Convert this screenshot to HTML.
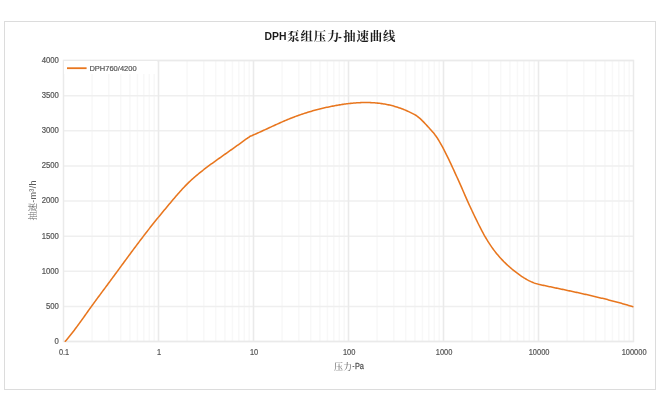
<!DOCTYPE html>
<html><head><meta charset="utf-8">
<style>
html,body{margin:0;padding:0;background:#fff;}
body{width:660px;height:410px;overflow:hidden;position:relative;}
svg{position:absolute;left:0;top:0;}
.tk{font-family:"Liberation Sans",sans-serif;font-size:8.4px;fill:#555;stroke:#555;stroke-width:0.2px;}
</style></head><body>
<svg width="660" height="410" viewBox="0 0 660 410">
<g>
<rect x="4.5" y="21.5" width="651" height="368" fill="#fff" stroke="#dcdcdc" stroke-width="1"/>
<path d="M92.10 60.5V341.5M108.83 60.5V341.5M120.70 60.5V341.5M129.90 60.5V341.5M137.42 60.5V341.5M143.78 60.5V341.5M149.29 60.5V341.5M154.15 60.5V341.5M187.10 60.5V341.5M203.83 60.5V341.5M215.70 60.5V341.5M224.90 60.5V341.5M232.42 60.5V341.5M238.78 60.5V341.5M244.29 60.5V341.5M249.15 60.5V341.5M282.10 60.5V341.5M298.83 60.5V341.5M310.70 60.5V341.5M319.90 60.5V341.5M327.42 60.5V341.5M333.78 60.5V341.5M339.29 60.5V341.5M344.15 60.5V341.5M377.10 60.5V341.5M393.83 60.5V341.5M405.70 60.5V341.5M414.90 60.5V341.5M422.42 60.5V341.5M428.78 60.5V341.5M434.29 60.5V341.5M439.15 60.5V341.5M472.10 60.5V341.5M488.83 60.5V341.5M500.70 60.5V341.5M509.90 60.5V341.5M517.42 60.5V341.5M523.78 60.5V341.5M529.29 60.5V341.5M534.15 60.5V341.5M567.10 60.5V341.5M583.83 60.5V341.5M595.70 60.5V341.5M604.90 60.5V341.5M612.42 60.5V341.5M618.78 60.5V341.5M624.29 60.5V341.5M629.15 60.5V341.5" stroke="#f8f8f8" stroke-width="1.5" fill="none"/>
<path d="M63.5 341.500H633.5M63.5 306.375H633.5M63.5 271.250H633.5M63.5 236.125H633.5M63.5 201.000H633.5M63.5 165.875H633.5M63.5 130.750H633.5M63.5 95.625H633.5M63.5 60.500H633.5" stroke="#efefef" stroke-width="1.5" fill="none"/>
<path d="M158.50 60.5V341.5M253.50 60.5V341.5M348.50 60.5V341.5M443.50 60.5V341.5M538.50 60.5V341.5" stroke="#eaeaea" stroke-width="1.6" fill="none"/>
<rect x="63.5" y="60.5" width="570.0" height="281.0" fill="none" stroke="#eaeaea" stroke-width="1.5"/>
<path d="M65.30 341.30 L66.30 340.15 L67.30 338.96 L68.30 337.77 L69.30 336.55 L70.30 335.31 L71.30 334.05 L72.30 332.77 L73.30 331.47 L74.30 330.16 L75.30 328.83 L76.30 327.49 L77.30 326.14 L78.30 324.77 L79.30 323.40 L80.30 322.02 L81.30 320.63 L82.30 319.24 L83.30 317.84 L84.30 316.43 L85.30 315.03 L86.30 313.62 L87.30 312.22 L88.30 310.82 L89.30 309.41 L90.30 308.02 L91.30 306.63 L92.30 305.24 L93.30 303.87 L94.30 302.49 L95.30 301.13 L96.30 299.77 L97.30 298.41 L98.30 297.05 L99.30 295.70 L100.30 294.35 L101.30 293.01 L102.30 291.66 L103.30 290.31 L104.30 288.96 L105.30 287.62 L106.30 286.27 L107.30 284.92 L108.30 283.56 L109.30 282.21 L110.30 280.85 L111.30 279.50 L112.30 278.14 L113.30 276.78 L114.30 275.42 L115.30 274.06 L116.30 272.70 L117.30 271.34 L118.30 269.98 L119.30 268.61 L120.30 267.25 L121.30 265.89 L122.30 264.53 L123.30 263.17 L124.30 261.81 L125.30 260.45 L126.30 259.09 L127.30 257.74 L128.30 256.38 L129.30 255.03 L130.30 253.68 L131.30 252.33 L132.30 250.98 L133.30 249.64 L134.30 248.30 L135.30 246.96 L136.30 245.62 L137.30 244.29 L138.30 242.96 L139.30 241.63 L140.30 240.31 L141.30 239.00 L142.30 237.68 L143.30 236.37 L144.30 235.07 L145.30 233.77 L146.30 232.48 L147.30 231.19 L148.30 229.90 L149.30 228.63 L150.30 227.35 L151.30 226.09 L152.30 224.83 L153.30 223.57 L154.30 222.32 L155.30 221.08 L156.30 219.84 L157.30 218.61 L158.30 217.38 L159.30 216.15 L160.30 214.93 L161.30 213.72 L162.30 212.50 L163.30 211.30 L164.30 210.09 L165.30 208.89 L166.30 207.69 L167.30 206.49 L168.30 205.29 L169.30 204.10 L170.30 202.91 L171.30 201.72 L172.30 200.53 L173.30 199.35 L174.30 198.17 L175.30 197.00 L176.30 195.84 L177.30 194.68 L178.30 193.54 L179.30 192.41 L180.30 191.29 L181.30 190.18 L182.30 189.08 L183.30 188.01 L184.30 186.95 L185.30 185.90 L186.30 184.88 L187.30 183.87 L188.30 182.89 L189.30 181.92 L190.30 180.98 L191.30 180.05 L192.30 179.15 L193.30 178.26 L194.30 177.38 L195.30 176.52 L196.30 175.67 L197.30 174.83 L198.30 174.00 L199.30 173.18 L200.30 172.37 L201.30 171.57 L202.30 170.78 L203.30 170.00 L204.30 169.22 L205.30 168.46 L206.30 167.70 L207.30 166.94 L208.30 166.19 L209.30 165.45 L210.30 164.72 L211.30 163.98 L212.30 163.26 L213.30 162.53 L214.30 161.81 L215.30 161.10 L216.30 160.38 L217.30 159.67 L218.30 158.96 L219.30 158.25 L220.30 157.54 L221.30 156.83 L222.30 156.12 L223.30 155.42 L224.30 154.71 L225.30 154.00 L226.30 153.30 L227.30 152.59 L228.30 151.88 L229.30 151.17 L230.30 150.46 L231.30 149.75 L232.30 149.05 L233.30 148.33 L234.30 147.62 L235.30 146.91 L236.30 146.20 L237.30 145.48 L238.30 144.77 L239.30 144.05 L240.30 143.33 L241.30 142.61 L242.30 141.89 L243.30 141.17 L244.30 140.45 L245.30 139.72 L246.30 138.99 L247.30 138.26 L248.30 137.58 L249.30 136.98 L249.70 136.50 L250.70 136.07 L251.70 135.67 L252.70 135.24 L253.70 134.81 L254.70 134.37 L255.70 133.93 L256.70 133.49 L257.70 133.04 L258.70 132.59 L259.70 132.14 L260.70 131.69 L261.70 131.23 L262.70 130.78 L263.70 130.32 L264.70 129.86 L265.70 129.40 L266.70 128.93 L267.70 128.47 L268.70 128.01 L269.70 127.55 L270.70 127.08 L271.70 126.62 L272.70 126.16 L273.70 125.70 L274.70 125.24 L275.70 124.79 L276.70 124.33 L277.70 123.88 L278.70 123.43 L279.70 122.98 L280.70 122.54 L281.70 122.10 L282.70 121.66 L283.70 121.23 L284.70 120.80 L285.70 120.37 L286.70 119.95 L287.70 119.54 L288.70 119.13 L289.70 118.72 L290.70 118.32 L291.70 117.93 L292.70 117.54 L293.70 117.16 L294.70 116.78 L295.70 116.40 L296.70 116.04 L297.70 115.68 L298.70 115.32 L299.70 114.97 L300.70 114.62 L301.70 114.28 L302.70 113.95 L303.70 113.62 L304.70 113.29 L305.70 112.97 L306.70 112.65 L307.70 112.34 L308.70 112.04 L309.70 111.74 L310.70 111.44 L311.70 111.15 L312.70 110.87 L313.70 110.59 L314.70 110.31 L315.70 110.04 L316.70 109.77 L317.70 109.51 L318.70 109.25 L319.70 109.00 L320.70 108.75 L321.70 108.51 L322.70 108.27 L323.70 108.03 L324.70 107.80 L325.70 107.58 L326.70 107.36 L327.70 107.14 L328.70 106.93 L329.70 106.72 L330.70 106.51 L331.70 106.31 L332.70 106.12 L333.70 105.93 L334.70 105.74 L335.70 105.56 L336.70 105.38 L337.70 105.20 L338.70 105.03 L339.70 104.87 L340.70 104.70 L341.70 104.55 L342.70 104.39 L343.70 104.25 L344.70 104.10 L345.70 103.97 L346.70 103.83 L347.70 103.71 L348.70 103.59 L349.70 103.47 L350.70 103.36 L351.70 103.26 L352.70 103.16 L353.70 103.07 L354.70 102.99 L355.70 102.91 L356.70 102.84 L357.70 102.77 L358.70 102.72 L359.70 102.67 L360.70 102.62 L361.70 102.59 L362.70 102.56 L363.70 102.54 L364.70 102.53 L365.70 102.52 L366.70 102.52 L367.70 102.53 L368.70 102.55 L369.70 102.58 L370.70 102.62 L371.70 102.66 L372.70 102.72 L373.70 102.78 L374.70 102.85 L375.70 102.93 L376.70 103.02 L377.70 103.12 L378.70 103.23 L379.70 103.35 L380.70 103.48 L381.70 103.62 L382.70 103.77 L383.70 103.93 L384.70 104.10 L385.70 104.28 L386.70 104.47 L387.70 104.67 L388.70 104.88 L389.70 105.11 L390.70 105.34 L391.70 105.59 L392.70 105.85 L393.70 106.11 L394.70 106.40 L395.70 106.69 L396.70 106.99 L397.70 107.31 L398.70 107.64 L399.70 107.98 L400.70 108.34 L401.70 108.70 L402.70 109.08 L403.70 109.48 L404.70 109.88 L405.70 110.30 L406.70 110.73 L407.70 111.18 L408.70 111.64 L409.70 112.11 L410.70 112.60 L411.70 113.10 L412.70 113.62 L413.70 114.15 L414.70 114.69 L415.70 115.21 L416.70 115.75 L417.20 116.31 L418.20 117.00 L419.20 117.80 L420.20 118.70 L421.20 119.64 L422.20 120.61 L423.20 121.62 L424.20 122.65 L425.20 123.70 L426.20 124.78 L427.20 125.87 L428.20 126.98 L429.20 128.09 L430.20 129.22 L431.20 130.34 L432.20 131.47 L433.20 132.56 L434.20 133.64 L434.90 134.75 L435.90 136.03 L436.90 137.45 L437.90 139.01 L438.90 140.63 L439.90 142.31 L440.90 144.06 L441.90 145.86 L442.90 147.71 L443.90 149.61 L444.90 151.55 L445.90 153.53 L446.90 155.55 L447.90 157.61 L448.90 159.69 L449.90 161.80 L450.90 163.93 L451.90 166.08 L452.90 168.25 L453.90 170.43 L454.90 172.62 L455.90 174.81 L456.90 177.00 L457.90 179.19 L458.90 181.40 L459.90 183.61 L460.90 185.86 L461.90 188.14 L462.90 190.45 L463.90 192.77 L464.90 195.09 L465.90 197.40 L466.90 199.68 L467.90 201.91 L468.90 204.10 L469.90 206.26 L470.90 208.39 L471.90 210.51 L472.90 212.61 L473.90 214.72 L474.90 216.81 L475.90 218.88 L476.90 220.94 L477.90 222.98 L478.90 224.99 L479.90 226.97 L480.90 228.91 L481.90 230.82 L482.90 232.69 L483.90 234.51 L484.90 236.28 L485.90 238.01 L486.90 239.68 L487.90 241.31 L488.90 242.88 L489.90 244.41 L490.90 245.89 L491.90 247.33 L492.90 248.73 L493.90 250.09 L494.90 251.40 L495.90 252.68 L496.90 253.92 L497.90 255.12 L498.90 256.29 L499.90 257.43 L500.90 258.53 L501.90 259.61 L502.90 260.65 L503.90 261.67 L504.90 262.66 L505.90 263.63 L506.90 264.57 L507.90 265.49 L508.90 266.39 L509.90 267.26 L510.90 268.13 L511.90 268.97 L512.90 269.80 L513.90 270.61 L514.90 271.41 L515.90 272.19 L516.90 272.96 L517.90 273.71 L518.90 274.44 L519.90 275.16 L520.90 275.86 L521.90 276.54 L522.90 277.20 L523.90 277.83 L524.90 278.45 L525.90 279.04 L526.90 279.61 L527.90 280.16 L528.90 280.68 L529.90 281.17 L530.90 281.64 L531.90 282.09 L532.90 282.50 L533.90 282.89 L534.90 283.25 L535.90 283.57 L536.90 283.86 L537.90 284.11 L538.50 284.32 L539.50 284.52 L540.50 284.73 L541.50 284.94 L542.50 285.15 L543.50 285.37 L544.50 285.58 L545.50 285.79 L546.50 286.00 L547.50 286.22 L548.50 286.43 L549.50 286.64 L550.50 286.85 L551.50 287.06 L552.50 287.27 L553.50 287.48 L554.50 287.69 L555.50 287.90 L556.50 288.12 L557.50 288.33 L558.50 288.54 L559.50 288.75 L560.50 288.96 L561.50 289.17 L562.50 289.38 L563.50 289.59 L564.50 289.81 L565.50 290.02 L566.50 290.23 L567.50 290.44 L568.50 290.66 L569.50 290.87 L570.50 291.08 L571.50 291.30 L572.50 291.51 L573.50 291.73 L574.50 291.95 L575.50 292.16 L576.50 292.38 L577.50 292.60 L578.50 292.82 L579.50 293.04 L580.50 293.26 L581.50 293.48 L582.50 293.70 L583.50 293.92 L584.50 294.15 L585.50 294.37 L586.50 294.60 L587.50 294.83 L588.50 295.05 L589.50 295.28 L590.50 295.51 L591.50 295.74 L592.50 295.98 L593.50 296.21 L594.50 296.44 L595.50 296.68 L596.50 296.92 L597.50 297.16 L598.50 297.40 L599.50 297.64 L600.50 297.88 L601.50 298.13 L602.50 298.37 L603.50 298.62 L604.50 298.87 L605.50 299.12 L606.50 299.37 L607.50 299.62 L608.50 299.88 L609.50 300.14 L610.50 300.40 L611.50 300.66 L612.50 300.92 L613.50 301.18 L614.50 301.45 L615.50 301.72 L616.50 301.99 L617.50 302.26 L618.50 302.53 L619.50 302.81 L620.50 303.09 L621.50 303.37 L622.50 303.65 L623.50 303.94 L624.50 304.22 L625.50 304.51 L626.50 304.80 L627.50 305.10 L628.50 305.39 L629.50 305.69 L630.50 305.99 L631.50 306.27 L632.50 306.60 L632.80 306.69" stroke="#E8761E" stroke-width="1.55" fill="none" stroke-linejoin="round" stroke-linecap="round"/>
<g class="tk">
<text x="54.60" y="343.95" textLength="4.30" lengthAdjust="spacingAndGlyphs">0</text>
<text x="46.00" y="308.82" textLength="12.90" lengthAdjust="spacingAndGlyphs">500</text>
<text x="41.70" y="273.70" textLength="17.20" lengthAdjust="spacingAndGlyphs">1000</text>
<text x="41.70" y="238.57" textLength="17.20" lengthAdjust="spacingAndGlyphs">1500</text>
<text x="41.70" y="203.45" textLength="17.20" lengthAdjust="spacingAndGlyphs">2000</text>
<text x="41.70" y="168.32" textLength="17.20" lengthAdjust="spacingAndGlyphs">2500</text>
<text x="41.70" y="133.20" textLength="17.20" lengthAdjust="spacingAndGlyphs">3000</text>
<text x="41.70" y="98.08" textLength="17.20" lengthAdjust="spacingAndGlyphs">3500</text>
<text x="41.70" y="62.95" textLength="17.20" lengthAdjust="spacingAndGlyphs">4000</text>
<text x="59.00" y="355.2" textLength="10.20" lengthAdjust="spacingAndGlyphs">0.1</text>
<text x="157.03" y="355.2" textLength="4.15" lengthAdjust="spacingAndGlyphs">1</text>
<text x="249.95" y="355.2" textLength="8.30" lengthAdjust="spacingAndGlyphs">10</text>
<text x="342.88" y="355.2" textLength="12.45" lengthAdjust="spacingAndGlyphs">100</text>
<text x="435.80" y="355.2" textLength="16.60" lengthAdjust="spacingAndGlyphs">1000</text>
<text x="528.73" y="355.2" textLength="20.75" lengthAdjust="spacingAndGlyphs">10000</text>
<text x="621.65" y="355.2" textLength="24.90" lengthAdjust="spacingAndGlyphs">100000</text>
</g>
<rect x="64" y="61" width="93" height="13" fill="#fff"/>
<line x1="67" y1="68.2" x2="86.6" y2="68.2" stroke="#E8761E" stroke-width="1.8"/>
<text x="89.4" y="71.3" class="tk" style="font-size:7.8px" textLength="47.2" lengthAdjust="spacingAndGlyphs">DPH760/4200</text>
<g style="fill:#1c1c1c">
<text x="264.6" y="39.6" textLength="21.9" lengthAdjust="spacingAndGlyphs" style="font-family:'Liberation Sans',sans-serif;font-size:10px;font-weight:bold">DPH</text>
<text x="287.2" y="40.8" style="font-family:'Liberation Serif','Noto Serif CJK SC',serif;font-size:12.4px;font-weight:700;letter-spacing:0.9px">泵组压力</text>
<text x="337.9" y="39.6" style="font-family:'Liberation Sans',sans-serif;font-size:11.5px;font-weight:bold">-</text>
<text x="343.2" y="40.8" style="font-family:'Liberation Serif','Noto Serif CJK SC',serif;font-size:12.4px;font-weight:700;letter-spacing:0.9px">抽速曲线</text>
</g>
<g style="fill:#595959">
<text x="334.1" y="369.6" style="font-family:'Liberation Serif','Noto Serif CJK SC',serif;font-size:9px">压力</text>
<text x="352.3" y="368.0" style="font-family:'Liberation Sans',sans-serif;font-size:7px;font-weight:bold">-</text>
<text x="354.9" y="368.9" textLength="9" lengthAdjust="spacingAndGlyphs" style="font-family:'Liberation Sans',sans-serif;font-size:8.6px;stroke:#595959;stroke-width:0.3px">Pa</text>
</g>
<text transform="translate(35.9,200.3) rotate(-90)" text-anchor="middle" style="font-family:'Liberation Sans',sans-serif;font-size:9px;fill:#5a5a5a"><tspan style="font-family:'Liberation Serif','Noto Serif CJK SC',serif;font-size:8.8px;fill:#666">抽速</tspan><tspan style="letter-spacing:0.35px">-m³/h</tspan></text>
</g>
</svg>
</body></html>
